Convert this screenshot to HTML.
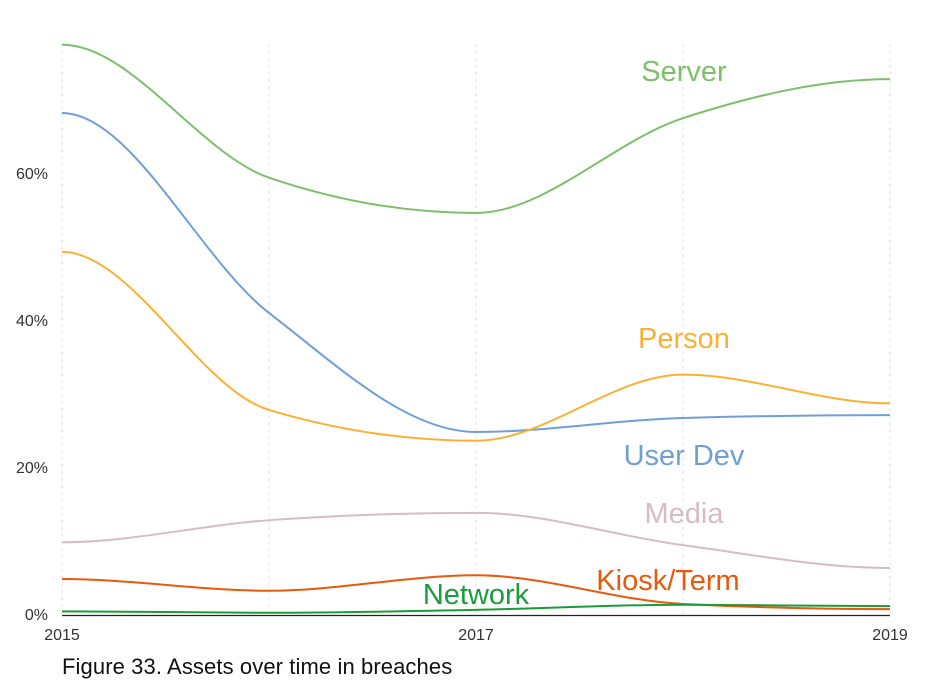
<!DOCTYPE html>
<html><head><meta charset="utf-8"><style>
body{margin:0;background:#fff;width:944px;height:693px;overflow:hidden;font-family:"Liberation Sans",sans-serif}
</style></head><body>
<svg id="chart" width="944" height="693" xmlns="http://www.w3.org/2000/svg"></svg>
<script>
const years = [2015, 2016, 2017, 2018, 2019];
const xTickLabels = ["2015", "2017", "2019"];
const yTicks = [0, 20, 40, 60];
const serverVals = [77.6, 59.5, 54.7, 67.6, 72.9];
const userDevVals = [68.3, 41.1, 24.9, 26.8, 27.2];
const personVals = [49.4, 27.9, 23.7, 32.7, 28.8];
const mediaVals = [9.9, 12.9, 13.9, 9.5, 6.4];
const kioskVals = [4.9, 3.3, 5.4, 1.5, 0.8];
const networkVals = [0.5, 0.3, 0.7, 1.4, 1.2];

const svg = document.getElementById('chart');
const NS = 'http://www.w3.org/2000/svg';
const x = v => 62 + (v - 2015) * 207;
const y = v => 615 - v * 7.35;
function mk(tag, attrs, parent) {
  const e = document.createElementNS(NS, tag);
  for (const k in attrs) e.setAttribute(k, attrs[k]);
  (parent || svg).appendChild(e);
  return e;
}
years.forEach(yr => {
  const g = mk('line', {x1: x(yr), x2: x(yr), y1: 44, y2: 615, stroke: '#e0e0e0', 'stroke-dasharray': '3,4', 'stroke-width': 1});
  
  
});
yTicks.forEach(t => {
  const e = mk('text', {x: 48, y: y(t) + 5, 'text-anchor': 'end', 'font-size': 16, fill: '#333'});
  e.textContent = t + '%';
  
  
});
xTickLabels.forEach(t => {
  const e = mk('text', {x: x(+t), y: 640, 'text-anchor': 'middle', 'font-size': 16, fill: '#333'});
  e.textContent = t;
  
  
});
function pathFor(vals) {
  const px = years.map(x), py = vals.map(y), n = px.length;
  const d = [], m = [];
  for (let i = 0; i < n - 1; i++) d.push((py[i+1]-py[i])/(px[i+1]-px[i]));
  for (let i = 1; i < n - 1; i++) {
    if (d[i-1]*d[i] <= 0) m[i] = 0;
    else { const h0 = px[i]-px[i-1], h1 = px[i+1]-px[i];
      const p = (d[i-1]*h1 + d[i]*h0)/(h0+h1);
      m[i] = (Math.sign(d[i-1]) + Math.sign(d[i])) * Math.min(Math.abs(d[i-1]), Math.abs(d[i]), 0.5*Math.abs(p)); }
  }
  m[0] = 0; m[n-1] = 0;
  let s = `M${px[0]},${py[0]}`;
  for (let i = 0; i < n - 1; i++) {
    const h = (px[i+1]-px[i])/3;
    s += ` C${px[i]+h},${py[i]+m[i]*h} ${px[i+1]-h},${py[i+1]-m[i+1]*h} ${px[i+1]},${py[i+1]}`;
  }
  return s;
}
const series = [
  ['server', serverVals, '#7dbf6b', 'Server', 684, 81],
  ['user-dev', userDevVals, '#6f9fd8', 'User Dev', 684, 465],
  ['person', personVals, '#f9b133', 'Person', 684, 348],
  ['media', mediaVals, '#d6bcc3', 'Media', 684, 523],
  ['kiosk-term', kioskVals, '#e8590c', 'Kiosk/Term', 668, 590],
  ['network', networkVals, '#1a9c3a', 'Network', 476, 604]
];
series.forEach(s => {
  const p = mk('path', {d: pathFor(s[1]), fill: 'none', stroke: s[2], 'stroke-width': 2});
  
  
});
series.forEach(s => {
  const t = mk('text', {x: s[4], y: s[5], 'text-anchor': 'middle', 'font-size': 29, fill: s[2]});
  t.textContent = s[3];
  
  
});
const ax = mk('line', {x1: 62, x2: 890, y1: 615.5, y2: 615.5, stroke: '#222', 'stroke-width': 1.2});


const cap = mk('text', {x: 62, y: 674, 'font-size': 22, fill: '#111', 'letter-spacing': '0.1'});
cap.textContent = 'Figure 33. Assets over time in breaches';


</script>
</body></html>
